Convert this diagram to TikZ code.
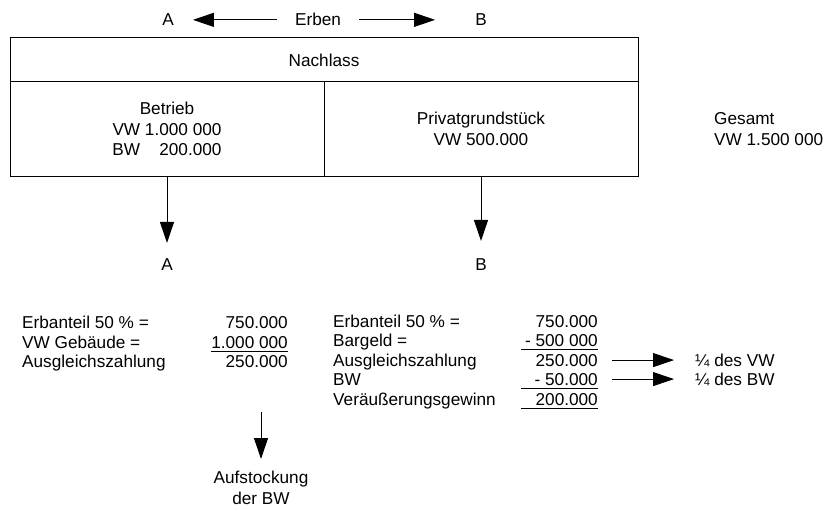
\documentclass[tikz,border=0pt]{standalone}
\usepackage{fontspec}
\setmainfont{Liberation Sans}
\usetikzlibrary{arrows.meta}
\begin{document}
\begin{tikzpicture}[x=1pt,y=-1pt,
  every node/.style={inner sep=0pt, font=\fontsize{17.2}{20.5}\selectfont},
  cell/.style={draw, line width=1pt, align=center},
  arr/.style={-{Triangle[length=21pt,width=14pt]}, line width=1pt},
  uline/.style={line width=1pt}]
\useasboundingbox (0,0) rectangle (830,511);

% heirs
\node[anchor=base] (ha) at (168,26) {A};
\node[anchor=base] (erben) at (318,26) {Erben};
\node[anchor=base] (hb) at (481,26) {B};
\draw[arr, shorten <=18pt, shorten >=19pt] (erben.west) -- (erben.west -| ha.east);
\draw[arr, shorten <=18pt, shorten >=40pt] (erben.east) -- (erben.east -| hb.west);

% estate
\node[cell, minimum width=628pt, minimum height=44pt] (nachlass) at (324,60) {Nachlass};
\node[cell, minimum width=314pt, minimum height=94pt] (betrieb) at (167,129)
  {Betrieb\\VW 1.000 000\\BW\hspace{1.112em}200.000};
\node[cell, minimum width=314pt, minimum height=94pt] (privat) at (481,129)
  {Privatgrundstück\\VW 500.000};
\node[anchor=west, align=left] (gesamt) at (714,129) {Gesamt\\VW 1.500 000};

% heirs receiving
\node[anchor=base] (la) at (167,270) {A};
\node[anchor=base] (lb) at (481,270) {B};
\draw[arr, shorten >=15pt] (betrieb.south) -- (la.north);
\draw[arr, shorten >=17pt] (privat.south) -- (lb.north);

% calculation for A
\node[anchor=base west] (l1) at (22,328) {Erbanteil 50 \% =};
\node[anchor=base east] (l1v) at (288,328) {750.000};
\node[anchor=base west] (l2) at (22,348) {VW Gebäude =};
\node[anchor=base east] (l2v) at (288,348) {1.000 000};
\node[anchor=base west] (l3) at (22,367) {Ausgleichszahlung};
\node[anchor=base east] (l3v) at (288,367) {250.000};
\draw[uline] (l2v.base east) ++(0,3.5) -- ++(-77,0);

\node[anchor=north, align=center] (auf) at (261,471) {Aufstockung\\der BW};
\coordinate (aufstart) at (261,412);
\draw[arr, shorten >=12pt] (aufstart) -- (auf.north);

% calculation for B
\node[anchor=base west] (r1) at (333,327) {Erbanteil 50 \% =};
\node[anchor=base east] (r1v) at (598,327) {750.000};
\node[anchor=base west] (r2) at (333,346) {Bargeld =};
\node[anchor=base east] (r2v) at (598,346) {- 500 000};
\node[anchor=base west] (r3) at (333,366) {Ausgleichszahlung};
\node[anchor=base east] (r3v) at (598,366) {250.000};
\node[anchor=base west] (r4) at (333,385) {BW};
\node[anchor=base east] (r4v) at (598,385) {- 50.000};
\node[anchor=base west] (r5) at (333,405) {Veräußerungsgewinn};
\node[anchor=base east] (r5v) at (598,405) {200.000};
\draw[uline] (r2v.base east) ++(0,3.5) -- ++(-77,0);
\draw[uline] (r4v.base east) ++(0,3.5) -- ++(-77,0);
\draw[uline] (r5v.base east) ++(0,3.5) -- ++(-77,0);

\node[anchor=base west] (q1) at (695,366) {¼ des VW};
\node[anchor=base west] (q2) at (695,385) {¼ des BW};
\draw[arr, shorten <=14pt, shorten >=21pt] (r3v.east) -- (r3v.east -| q1.west);
\draw[arr, shorten <=14pt, shorten >=21pt] (r4v.east) -- (r4v.east -| q2.west);
\end{tikzpicture}
\end{document}
